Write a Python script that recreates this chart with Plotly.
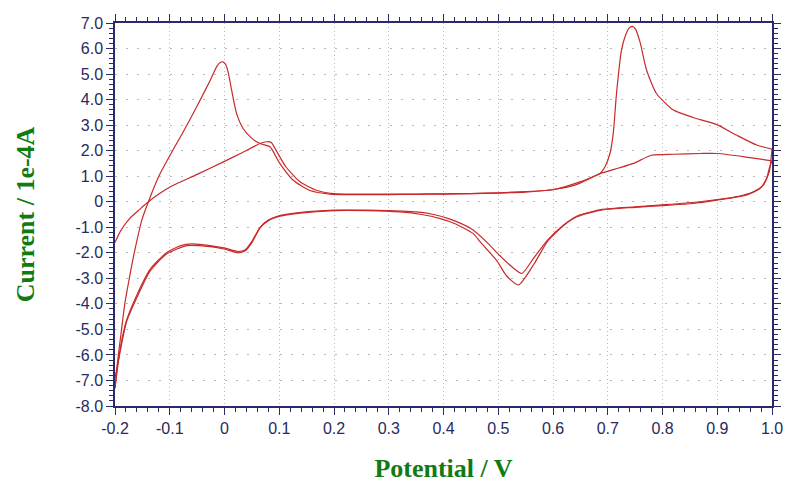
import plotly.graph_objects as go

# ---- data ----
# cycle 1, anodic sweep
v_an1 = [-0.2, -0.19, -0.173, -0.155, -0.139, -0.12, -0.0995, -0.05, -0.002, 0.03, 0.065, 0.077,
         0.085, 0.094, 0.112, 0.138, 0.168, 0.199, 0.25, 0.3, 0.35, 0.4, 0.45, 0.5, 0.55, 0.6,
         0.64, 0.686, 0.72, 0.747, 0.78, 0.82, 0.87, 0.9, 0.95, 1.0]
i_an1 = [-1.6, -1.15, -0.65, -0.3, 0.0, 0.3, 0.58, 1.07, 1.56, 1.9, 2.28, 2.35,
         2.33, 2.02, 1.37, 0.78, 0.45, 0.32, 0.3, 0.3, 0.3, 0.31, 0.32, 0.34, 0.38, 0.48,
         0.65, 1.1, 1.32, 1.5, 1.82, 1.86, 1.89, 1.89, 1.76, 1.6]

# cycle 1, cathodic sweep
v_cat1 = [1.0, 0.995, 0.99, 0.978, 0.953, 0.917, 0.868, 0.8, 0.75, 0.69, 0.645, 0.62, 0.59,
          0.565, 0.543, 0.525, 0.5, 0.48, 0.45, 0.412, 0.382, 0.35, 0.3, 0.26, 0.2, 0.14,
          0.095, 0.08, 0.065, 0.05, 0.038, 0.025, 0.001, -0.026, -0.06, -0.08, -0.106, -0.136,
          -0.16, -0.179, -0.19, -0.2]
i_cat1 = [1.6, 1.3, 0.91, 0.52, 0.26, 0.13, 0.0, -0.12, -0.2, -0.3, -0.55, -0.9, -1.5,
          -2.2, -2.81, -2.55, -2.05, -1.6, -1.05, -0.68, -0.5, -0.4, -0.35, -0.33, -0.33, -0.42,
          -0.58, -0.72, -1.0, -1.55, -1.88, -1.95, -1.82, -1.72, -1.65, -1.72, -2.0, -2.65,
          -3.65, -4.65, -5.7, -7.3]

# cycle 2, anodic sweep
v_an2 = [-0.2, -0.195, -0.188, -0.182, -0.173, -0.165, -0.151, -0.139, -0.12, -0.0995, -0.075,
         -0.051, -0.026, -0.014, -0.008, -0.003, 0.002, 0.007, 0.013, 0.022, 0.034, 0.05, 0.065,
         0.083, 0.101, 0.125, 0.155, 0.192, 0.25, 0.3, 0.35, 0.4, 0.45, 0.5, 0.55, 0.6, 0.649,
         0.686, 0.695, 0.704, 0.71, 0.716, 0.725, 0.733, 0.739, 0.745, 0.751, 0.759, 0.771,
         0.789, 0.82, 0.856, 0.899, 0.935, 0.972, 1.0]
i_an2 = [-7.3, -6.2, -5.0, -3.98, -2.9, -2.02, -0.72, 0.0, 1.0, 1.82, 2.75,
         3.71, 4.76, 5.3, 5.45, 5.48, 5.38, 5.05, 4.37, 3.46, 2.87, 2.48, 2.28,
         2.15, 1.5, 0.85, 0.45, 0.3, 0.28, 0.28, 0.29, 0.3, 0.32, 0.35, 0.4, 0.47, 0.78,
         1.11, 1.37, 1.89, 2.67, 4.24, 5.93, 6.55, 6.8, 6.87, 6.75, 6.25, 5.15,
         4.24, 3.59, 3.3, 3.02, 2.61, 2.22, 2.06]

# cycle 2, cathodic sweep
v_cat2 = [1.0, 0.995, 0.984, 0.966, 0.935, 0.899, 0.856, 0.8, 0.75, 0.69, 0.645, 0.62, 0.59,
          0.565, 0.537, 0.515, 0.497, 0.467, 0.454, 0.42, 0.394, 0.36, 0.32, 0.26, 0.2, 0.138,
          0.095, 0.08, 0.065, 0.05, 0.038, 0.025, 0.001, -0.026, -0.069, -0.106, -0.136, -0.16,
          -0.179, -0.19, -0.2]
i_cat2 = [2.06, 1.17, 0.65, 0.39, 0.19, 0.06, -0.07, -0.15, -0.22, -0.32, -0.58, -0.92, -1.55,
          -2.45, -3.26, -2.9, -2.3, -1.57, -1.24, -0.85, -0.66, -0.5, -0.4, -0.35, -0.35, -0.45,
          -0.6, -0.74, -1.02, -1.6, -1.92, -2.0, -1.86, -1.76, -1.72, -2.05, -2.72, -3.75,
          -4.7, -5.8, -6.9]

x_tickvals = [-0.2, -0.1, 0, 0.1, 0.2, 0.3, 0.4, 0.5, 0.6, 0.7, 0.8, 0.9, 1.0]
x_ticktext = ["-0.2", "-0.1", "0", "0.1", "0.2", "0.3", "0.4", "0.5", "0.6", "0.7", "0.8", "0.9", "1.0"]
y_tickvals = [7, 6, 5, 4, 3, 2, 1, 0, -1, -2, -3, -4, -5, -6, -7, -8]
y_ticktext = ["7.0", "6.0", "5.0", "4.0", "3.0", "2.0", "1.0", "0", "-1.0", "-2.0", "-3.0",
              "-4.0", "-5.0", "-6.0", "-7.0", "-8.0"]

x_title = "Potential / V"
y_title = "Current / 1e-4A"

# ---- figure ----
LINE = "#c82a2a"
AXIS = "#2a2a6a"
TICKFONT = dict(family="Liberation Sans, Arial, sans-serif", size=16, color="#2a2a5e")
TITLEFONT = dict(family="Liberation Serif, Times New Roman, serif", size=26, color="#117a11")

fig = go.Figure()
for xs, ys in [(v_an1, i_an1), (v_cat1, i_cat1), (v_an2, i_an2), (v_cat2, i_cat2)]:
    fig.add_trace(go.Scatter(x=xs, y=ys, mode="lines",
                             line=dict(color=LINE, width=1.2, shape="spline", smoothing=0.6),
                             showlegend=False, hoverinfo="skip"))

# page body adds an 8px offset, so margins are compensated
fig.update_layout(
    width=800, height=482,
    margin=dict(l=107, r=36, t=15, b=84),
    paper_bgcolor="white", plot_bgcolor="white",
    showlegend=False,
)
fig.update_xaxes(
    range=[-0.2, 1.0], tickvals=x_tickvals, ticktext=x_ticktext, automargin=False,
    showline=True, linecolor=AXIS, linewidth=1.5, mirror="allticks",
    ticks="outside", ticklen=7, tickwidth=1, tickcolor=AXIS,
    minor=dict(dtick=0.02, tick0=0, ticklen=4, tickcolor=AXIS, ticks="outside", showgrid=False),
    showgrid=True, gridcolor="#b8b8b8", gridwidth=1, griddash="1px,3px",
    zeroline=False, tickfont=TICKFONT,
    title=dict(text=f"<b>{x_title}</b>", font=TITLEFONT, standoff=23),
)
fig.update_yaxes(
    range=[-8, 7], tickvals=y_tickvals, ticktext=y_ticktext, automargin=False,
    showline=True, linecolor=AXIS, linewidth=1.5, mirror="allticks",
    ticks="outside", ticklen=7, tickwidth=1, tickcolor=AXIS,
    minor=dict(dtick=0.2, tick0=0, ticklen=4, tickcolor=AXIS, ticks="outside", showgrid=False),
    showgrid=True, gridcolor="#b8b8b8", gridwidth=1, griddash="2px,9px",
    zeroline=False, tickfont=TICKFONT,
    title=dict(text=f"<b>{y_title}</b>", font=TITLEFONT, standoff=33),
)

fig.write_html("out.html")
